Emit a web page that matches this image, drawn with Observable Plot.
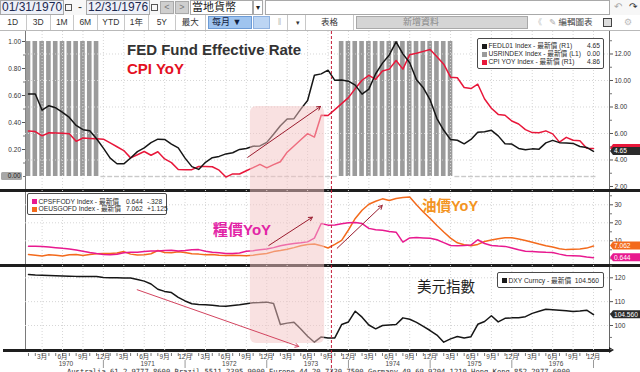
<!DOCTYPE html>
<html lang="zh-Hant">
<head>
<meta charset="utf-8">
<script src="https://cdn.jsdelivr.net/npm/d3@7"></script>
<script src="https://cdn.jsdelivr.net/npm/@observablehq/plot@0.6"></script>
<style>
html,body{margin:0;padding:0;background:#fff;}
#root{position:relative;width:640px;height:372px;overflow:hidden;background:#fff;font-family:"Liberation Sans","Noto Sans CJK TC",sans-serif;color:#222;}
.panel{position:absolute;left:0;}
.sep{position:absolute;background:#1e1e1e;}
.vax{position:absolute;width:1px;background:#7a7a7a;}
.box{position:absolute;box-sizing:border-box;border:1px solid #a9a9a9;background:#fff;white-space:nowrap;overflow:hidden;}
.btn{position:absolute;top:15px;height:15px;font-size:8.5px;line-height:15px;text-align:center;color:#333;border-right:1px solid #c8c8c8;box-sizing:border-box;white-space:nowrap;}
.legend{position:absolute;box-sizing:border-box;border:1px solid #4a4a4a;border-radius:2px;background:#fff;font-size:6.7px;color:#2a2a2a;}
.lrow{position:absolute;left:0;right:0;height:8px;line-height:8px;white-space:nowrap;}
.sw{position:absolute;width:5px;height:5px;top:1.5px;}
.note{position:absolute;white-space:nowrap;line-height:1;}
</style>
</head>
<body>
<div id="root"></div>
<script>
// ---------------- data (monthly, Jan 1970 .. Dec 1976) ----------------
const monthNames = ["1月","2月","3月","4月","5月","6月","7月","8月","9月","10月","11月","12月"];
const yearLabels = ["1970","1971","1972","1973","1974","1975","1976"];

const fedFunds = [8.98,8.98,7.76,8.10,7.94,7.60,7.21,6.61,6.29,6.20,5.60,4.90,
 4.14,3.72,3.71,4.15,4.63,4.91,5.31,5.57,5.55,5.20,4.91,4.14,
 3.50,3.29,3.83,4.17,4.27,4.46,4.55,4.80,4.87,5.04,5.06,5.33,
 5.94,6.58,7.09,7.12,7.84,8.49,10.40,10.50,10.78,10.01,10.03,9.95,
 9.65,8.97,9.35,10.51,11.31,11.93,12.92,12.01,11.34,10.06,9.45,8.53,
 7.13,6.24,5.54,5.49,5.22,5.55,6.10,6.14,6.24,5.82,5.22,5.20,
 4.87,4.77,4.84,4.82,5.29,5.48,5.31,5.29,5.25,5.02,4.95,4.65];

const cpiYoY = [6.18,6.15,5.82,6.06,6.04,6.01,5.98,5.41,5.66,5.63,5.60,5.57,
 5.29,5.00,4.71,4.16,4.40,4.64,4.36,4.62,4.08,3.80,3.28,3.27,
 3.27,3.51,3.50,3.49,3.23,2.71,2.95,2.94,3.19,3.42,3.67,3.41,
 3.65,3.87,4.59,5.06,5.53,5.99,5.73,7.38,7.36,7.80,8.25,8.71,
 9.39,10.02,10.39,10.09,10.71,10.86,11.51,10.86,11.95,12.06,12.20,12.34,
 11.80,11.23,10.25,10.21,9.47,9.39,9.72,8.60,7.91,7.44,7.38,6.94,
 6.72,6.29,6.07,6.05,6.20,5.97,5.35,5.71,5.49,5.46,4.88,4.86];

const usRecession = [1,1,1,1,1,1,1,1,1,1,1,0,
 0,0,0,0,0,0,0,0,0,0,0,0,
 0,0,0,0,0,0,0,0,0,0,0,0,
 0,0,0,0,0,0,0,0,0,0,1,1,
 1,1,1,1,1,1,1,1,1,1,1,1,
 1,1,1,0,0,0,0,0,0,0,0,0,
 0,0,0,0,0,0,0,0,0,0,0,0];

const foodYoY = [7.0,7.0,6.9,6.6,6.2,5.8,5.5,4.9,4.2,3.5,2.9,2.4,
 2.2,2.5,3.4,3.6,3.7,4.0,4.3,4.3,4.6,4.8,4.4,4.6,
 5.0,5.1,4.2,3.6,3.4,3.0,2.9,3.2,4.2,4.5,5.0,5.4,
 6.2,7.2,8.0,8.5,8.9,9.4,11.5,19.6,18.7,18.8,19.5,20.0,
 20.1,19.6,16.9,16.2,15.8,15.2,14.8,9.3,11.6,11.8,11.6,11.4,
 10.6,9.0,7.4,7.3,7.4,7.6,10.6,8.5,7.4,7.1,6.9,6.0,
 5.0,4.2,4.0,3.8,3.6,3.5,2.6,1.8,1.7,1.5,0.97,0.644];

const oilYoY = [2.4,2.0,1.6,2.2,2.0,1.5,2.2,2.4,1.8,2.4,2.8,3.0,
 2.9,3.2,4.0,2.6,2.1,2.3,2.8,4.6,3.5,3.3,3.9,3.5,
 2.8,2.6,2.2,2.4,2.0,1.8,2.0,1.9,1.7,2.0,2.5,3.0,
 4.0,4.6,5.3,6.2,7.2,8.0,8.2,7.3,6.0,8.0,10.2,16.0,
 22.4,27.0,30.3,32.0,33.3,32.4,33.5,34.0,34.3,30.0,26.0,22.4,
 18.5,14.9,11.5,8.9,7.8,7.3,8.0,9.6,10.5,11.2,11.7,11.7,
 11.0,10.2,9.2,8.2,7.3,6.5,5.6,5.1,5.3,5.5,5.94,7.062];

const dxy = [121.4,121.2,121.1,121.0,120.9,120.8,120.7,120.6,120.6,120.5,120.5,120.1,
 120.0,120.0,119.9,119.9,119.3,118.6,117.4,115.2,114.3,113.8,111.8,110.3,
 109.1,108.8,108.7,108.5,108.2,108.1,108.4,108.7,109.1,109.5,109.6,109.8,
 109.2,100.4,101.0,101.4,98.5,95.5,93.0,95.2,94.8,94.8,100.4,101.5,
 106.0,103.5,100.2,98.6,100.0,100.2,100.4,103.2,102.6,101.3,99.6,97.9,
 96.0,93.0,94.4,95.4,94.8,95.3,100.5,101.7,104.1,101.5,103.0,103.2,
 103.3,103.7,105.1,106.0,106.8,106.6,106.4,106.2,105.9,106.1,106.4,104.56];

const leftTicks = [0.2,0.4,0.6,0.8,1.0];
const leftMinor = [0,0.1,0.3,0.5,0.7,0.9];
const rateTicks = [2,4,6,8,10,12];
const rateMinor = [3,5,7,9,11,13];
const pctTicks = [10,20,30];
const pctMinor = [0,5,15,25,35];
const dxyTicks = [100,110,120];
const dxyMinor = [90,95,105,115,125];

const legendTop = [
  {name:"FEDL01 Index - 最新價 (R1)", color:"#1a1a1a", value:"4.65"},
  {name:"USRINDEX Index - 最新價 (L1)", color:"#9b9b9b", value:"0.00"},
  {name:"CPI YOY Index - 最新價 (R1)", color:"#e8173a", value:"4.86"}
];
const legendMid = [
  {name:"CPSFFODY Index - 最新價", color:"#e8198f", value:"0.644", chg:"-.328"},
  {name:"OEUSGOFD Index - 最新價", color:"#f36a1c", value:"7.062", chg:"+1.125"}
];
const legendBot = [{name:"DXY Curncy - 最新價", color:"#1a1a1a", value:"104.560"}];

// annotations, in month index (0 = Jan 1970) and series units
const highlight = [{from:32.6, to:43.5, topRate:8.04, bottomDxy:92.5}];
const eventMonth = [44.5];
const arrowsTop = [{x1:32.2, y1:4.2, x2:42.9, y2:8.04}];
const arrowsMid = [{x1:35.3, y1:7.4, x2:41.7, y2:23.1}, {x1:45.35, y1:5.9, x2:51.96, y2:29.6}];
const arrowsBot = [{x1:15.97, y1:115.0, x2:39.7, y2:91.2}];

// ---------------- build ----------------
const rows = fedFunds.map((_, i) => ({i, fed:fedFunds[i], cpi:cpiYoY[i], usr:usRecession[i],
  food:foodYoY[i], oil:oilYoY[i], dxy:dxy[i]}));
const allMonths = d3.range(rows.length);
const quarterTicks = d3.range(2, rows.length, 3);
const yearMid = yearLabels.map((_, k) => 12*k + 5.5);
const yearEnd = yearLabels.map((_, k) => 12*k + 11);

const W = 640, ML = 25, MR = 31;
const xDomain = [-0.44, 85.35];
const FONT = "Liberation Sans, Noto Sans CJK TC, sans-serif";
const C = {fed:"#161616", cpi:"#e8173a", bar:"#9b9b9b", food:"#e8198f", oil:"#f36a1c", dxy:"#161616",
  pink:"#f3c3c3", ev:"#c41e3a", arrow:"#9a1c2e", arrowB:"#d2445f", grid:"#d6d6d6"};

function panel(height, yDomain, marks, marginBottom = 0, xAxis = false) {
  return Plot.plot({
    width: W, height, marginLeft: ML, marginRight: MR, marginTop: 0, marginBottom,
    x: xAxis ? {domain: xDomain, label: null} : {domain: xDomain, axis: null, label: null},
    y: {domain: yDomain, label: null},
    style: {background: "transparent", fontFamily: FONT, fontSize: "6.5px", color: "#333", overflow: "visible"},
    marks
  });
}
const gridX = () => Plot.gridX({ticks: quarterTicks, stroke: C.grid, strokeOpacity: 1, strokeDasharray: "1,2"});
const hiFill = {fill: C.pink, fillOpacity: 0.5, clip: true};

const topBars = panel(159, [-0.1037, 1.0741], [
  Plot.rect(rows.filter(d => d.usr === 1), {x1: d => d.i - 0.5, x2: d => d.i + 0.5, y1: 0, y2: "usr",
    insetLeft: 1.1, insetRight: 1.1, fill: C.bar}),
  Plot.ruleY(rows.filter(d => d.usr === 0), {x1: d => d.i - 0.36, x2: d => d.i + 0.36, y: "usr", stroke: "#c9c9c9", strokeWidth: 1.4}),
  Plot.axisY({anchor: "left", ticks: leftTicks, tickFormat: d3.format(".2f"), tickSize: 3, tickPadding: 1.5, stroke: "#555", fill: "#333", label: null}),
  Plot.axisY({anchor: "left", ticks: leftMinor, tickFormat: () => "", tickSize: 2, stroke: "#777", label: null})
]);

const topLines = panel(159, [1.698, 13.698], [
  Plot.gridY({ticks: rateTicks.slice(1), stroke: C.grid, strokeOpacity: 1, strokeDasharray: "1,2"}),
  gridX(),
  Plot.line(rows, {x: "i", y: "cpi", stroke: C.cpi, strokeWidth: 1.5}),
  Plot.line(rows, {x: "i", y: "fed", stroke: C.fed, strokeWidth: 1.5}),
  Plot.rect(highlight, {x1: "from", x2: "to", y1: "topRate", y2: () => 0, rx: 6, ...hiFill}),
  Plot.ruleX(eventMonth, {stroke: C.ev, strokeDasharray: "3,2", strokeWidth: 1}),
  Plot.arrow(arrowsTop, {x1: "x1", y1: "y1", x2: "x2", y2: "y2", stroke: C.arrow, strokeWidth: 1, headLength: 6}),
  Plot.axisY({anchor: "right", ticks: rateTicks, tickFormat: d3.format(".2f"), tickSize: 3, tickPadding: 2, stroke: "#555", fill: "#333", label: null}),
  Plot.axisY({anchor: "right", ticks: rateMinor, tickFormat: () => "", tickSize: 2, stroke: "#777", label: null})
]);

const mid = panel(75, [-3.72, 37.94], [
  Plot.gridY({ticks: pctTicks, stroke: C.grid, strokeOpacity: 1, strokeDasharray: "1,2"}),
  gridX(),
  Plot.line(rows, {x: "i", y: "oil", stroke: C.oil, strokeWidth: 1.5}),
  Plot.line(rows, {x: "i", y: "food", stroke: C.food, strokeWidth: 1.5}),
  Plot.rect(highlight, {x1: "from", x2: "to", ...hiFill}),
  Plot.ruleX(eventMonth, {stroke: C.ev, strokeDasharray: "3,2", strokeWidth: 1}),
  Plot.arrow(arrowsMid, {x1: "x1", y1: "y1", x2: "x2", y2: "y2", stroke: C.arrow, strokeWidth: 1, headLength: 6}),
  Plot.axisY({anchor: "right", ticks: pctTicks, tickFormat: d3.format("d"), tickSize: 3, tickPadding: 2, stroke: "#555", fill: "#333", label: null}),
  Plot.axisY({anchor: "right", ticks: pctMinor, tickFormat: () => "", tickSize: 2, stroke: "#777", label: null})
]);

const bot = panel(107, [89.52, 125.16], [
  Plot.gridY({ticks: dxyTicks, stroke: C.grid, strokeOpacity: 1, strokeDasharray: "1,2"}),
  gridX(),
  Plot.line(rows, {x: "i", y: "dxy", stroke: C.dxy, strokeWidth: 1.5}),
  Plot.rect(highlight, {x1: "from", x2: "to", y1: "bottomDxy", y2: () => 140, rx: 6, ...hiFill}),
  Plot.ruleX(eventMonth, {stroke: C.ev, strokeDasharray: "3,2", strokeWidth: 1}),
  Plot.arrow(arrowsBot, {x1: "x1", y1: "y1", x2: "x2", y2: "y2", stroke: C.arrowB, strokeWidth: 1, headLength: 6}),
  Plot.axisY({anchor: "right", ticks: dxyTicks, tickFormat: d3.format("d"), tickSize: 3, tickPadding: 2, stroke: "#555", fill: "#333", label: null}),
  Plot.axisY({anchor: "right", ticks: dxyMinor, tickFormat: () => "", tickSize: 2, stroke: "#777", label: null}),
  Plot.axisX({ticks: allMonths, tickSize: 3, dy: 3, tickFormat: () => "", stroke: "#777", label: null}),
  Plot.axisX({ticks: quarterTicks, tickSize: 0, tickPadding: 4, tickFormat: i => monthNames[i % 12], fill: "#444", label: null}),
  Plot.axisX({ticks: yearMid, tickSize: 0, tickPadding: 11, tickFormat: d => yearLabels[Math.floor(d / 12)], fill: "#444", label: null}),
  Plot.axisX({ticks: yearEnd, tickSize: 8, dy: 10, tickFormat: () => "", stroke: "#9a9a9a", label: null}),
  Plot.axisX({ticks: eventMonth, tickSize: 22, tickFormat: () => "", stroke: C.ev, strokeDasharray: "3,2", label: null})
], 22, true);

// ---------------- page ----------------
const root = document.getElementById("root");
function add(html) { root.insertAdjacentHTML("beforeend", html); }

// toolbar row 1
add(`<div style="position:absolute;left:0;top:0;width:640px;height:15px;background:#f7f7f7;border-bottom:1px solid #c9c9c9"></div>`);
add(`<div class="box" style="left:0;top:0;width:64px;height:15px;background:#eef1f8;font-size:12px;line-height:13px;color:#1d2a52;padding-left:1px">01/31/1970</div>`);
add(`<div style="position:absolute;left:65px;top:4px;width:5px;height:5px;border:1px solid #555"></div>`);
add(`<div style="position:absolute;left:78px;top:0;font-size:12px;line-height:14px;color:#333">-</div>`);
add(`<div class="box" style="left:86px;top:0;width:64px;height:15px;background:#eef1f8;font-size:12px;line-height:13px;color:#1d2a52;padding-left:1px">12/31/1976</div>`);
add(`<div style="position:absolute;left:151px;top:4px;width:5px;height:5px;border:1px solid #555"></div>`);
add(`<div class="box" style="left:160px;top:1px;width:14px;height:13px;background:#cfcfcf;font-size:9px;line-height:11px;text-align:center;color:#777">&lt;</div>`);
add(`<div class="box" style="left:175px;top:1px;width:14px;height:13px;background:#cfcfcf;font-size:9px;line-height:11px;text-align:center;color:#777">&gt;</div>`);
add(`<div class="box" style="left:190px;top:0;width:63px;height:15px;font-size:11px;line-height:13px;color:#222;padding-left:1px">當地貨幣</div>`);
add(`<div class="box" style="left:253px;top:0;width:10px;height:15px;font-size:8px;line-height:13px;text-align:center">▾</div>`);
add(`<div class="box" style="left:265px;top:0;width:345px;height:15px"></div>`);
add(`<div style="position:absolute;left:614px;top:0;font-size:10px;line-height:14px;color:#aaa;font-family:'DejaVu Sans'">↶</div>`);
add(`<div style="position:absolute;left:629px;top:0;font-size:10px;line-height:14px;color:#333;font-family:'DejaVu Sans'">↷</div>`);
// toolbar row 2
add(`<div style="position:absolute;left:0;top:15px;width:640px;height:15px;background:#fff;border-bottom:1px solid #b9b9b9"></div>`);
const btns = [["1D",0,26.6],["3D",26.6,51],["1M",51,73.6],["6M",73.6,98],["YTD",98,124.6],["1年",124.6,149],["5Y",149,175.7],["最大",175.7,206]];
btns.forEach(([t,a,b]) => add(`<div class="btn" style="left:${a}px;width:${b-a}px">${t}</div>`));
add(`<div class="box" style="left:208px;top:16px;width:44px;height:13px;background:#9fc4ef;border-color:#6c9bd6;font-size:9px;line-height:11px;color:#102040;padding-left:3px">每月 ▼</div>`);
add(`<div class="box" style="left:253px;top:16px;width:17px;height:13px;background:#bcd5f3;border-color:#8fb2e0"></div>`);
add(`<div class="btn" style="left:272px;width:16px;color:#bbb">‖</div>`);
add(`<div class="btn" style="left:290px;width:16px;font-size:7px">▾</div>`);
add(`<div class="btn" style="left:306px;width:48px;font-size:8.5px">表格</div>`);
add(`<div class="box" style="left:356px;top:16px;width:172px;height:13px;background:#d5d5d5;font-size:9px;line-height:11px;color:#8a8a8a;padding-left:46px">新增資料</div>`);
add(`<div style="position:absolute;left:534px;top:15px;font-size:8px;line-height:15px;color:#bbb">《</div>`);
add(`<div style="position:absolute;left:549px;top:15px;font-size:8.5px;line-height:15px;color:#444;white-space:nowrap"><span style="color:#aaa;font-family:'DejaVu Sans'">✎</span> 編輯圖表</div>`);
add(`<div style="position:absolute;left:603px;top:18px;width:7px;height:7px;border:1px solid #444;background:#ddd"></div>`);
add(`<div style="position:absolute;left:624px;top:15px;font-size:9px;line-height:15px;color:#bbb;font-family:'DejaVu Sans'">⚙</div>`);

// separators & axis lines (under the plots)
add(`<div class="vax" style="left:25px;top:31px;height:319px"></div>`);
add(`<div class="vax" style="left:609px;top:31px;height:319px;background:#666"></div>`);
add(`<div class="sep" style="left:0;top:189px;width:640px;height:3px"></div>`);
add(`<div class="sep" style="left:0;top:264px;width:640px;height:3px"></div>`);
add(`<div class="sep" style="left:3px;top:349px;width:607px;height:3px"></div>`);
add(`<div style="position:absolute;left:609px;top:347px;width:0;height:0;border-top:3.5px solid transparent;border-bottom:3.5px solid transparent;border-left:5px solid #1e1e1e"></div>`);

// plots
function place(svg, top, z) {
  svg.style.position = "absolute"; svg.style.left = "0px"; svg.style.top = top + "px"; svg.style.zIndex = z;
  root.appendChild(svg);
}
place(topBars, 31, 2); place(topLines, 31, 3); place(mid, 190, 3); place(bot, 265, 3);

function yPos(plot, v) {
  const s = plot.scale("y");
  return s.apply ? s.apply(v) : d3.scaleLinear(s.domain, s.range)(v);
}
function rightTag(plot, v, bg, label, fg = "#fff") {
  const x0 = plot.scale("x").range[1] + 1;
  const y = yPos(plot, v);
  const g = d3.select(plot).append("g");
  g.append("path").attr("d", `M${x0},${y}L${x0 + 3},${y - 4}H${W}V${y + 4}H${x0 + 3}Z`).attr("fill", bg);
  if (label) g.append("text").attr("x", x0 + 4).attr("y", y).attr("dy", "0.36em").attr("fill", fg)
    .attr("text-anchor", "start").attr("font-size", 6.6).attr("font-family", FONT).text(label);
}
function leftTag(plot, v, bg, label) {
  const x1 = plot.scale("x").range[0] - 3;
  const y = yPos(plot, v);
  const g = d3.select(plot).append("g");
  g.append("rect").attr("x", 1).attr("y", y - 4).attr("width", x1 - 1).attr("height", 8).attr("rx", 1.5).attr("fill", bg);
  g.append("text").attr("x", x1 - 1.5).attr("y", y).attr("dy", "0.36em").attr("text-anchor", "end")
    .attr("fill", "#222").attr("font-size", 6.5).attr("font-family", FONT).text(label);
}
const last = rows[rows.length - 1];
leftTag(topBars, last.usr, "#a7a7a7", d3.format(".2f")(last.usr));
rightTag(topLines, last.cpi, C.cpi, null);   // hidden behind the FEDL01 tag, as in the reference
rightTag(topLines, last.fed, "#2b2b2b", d3.format(".2f")(last.fed));
rightTag(mid, last.oil, C.oil, d3.format(".3f")(last.oil));
rightTag(mid, last.food, C.food, d3.format(".3f")(last.food));
rightTag(bot, last.dxy, "#2b2b2b", d3.format(".3f")(last.dxy));

// legends
function legend(items, left, top, width, height, rowTops, valueRight) {
  let h = `<div class="legend" style="left:${left}px;top:${top}px;width:${width}px;height:${height}px;z-index:5">`;
  items.forEach((it, k) => {
    h += `<div class="lrow" style="top:${rowTops[k]}px"><span class="sw" style="left:4px;background:${it.color}"></span>` +
      `<span style="position:absolute;left:10.5px">${it.name}</span>`;
    if (it.chg) h += `<span style="position:absolute;left:98px">${it.value}</span><span style="position:absolute;left:119px">${it.chg}</span>`;
    else h += `<span style="position:absolute;right:${valueRight}px">${it.value}</span>`;
    h += `</div>`;
  });
  root.insertAdjacentHTML("beforeend", h + `</div>`);
}
legend(legendTop, 477, 38, 127, 31, [3, 11, 19], 3);
legend(legendMid, 27, 193, 140, 22, [3.5, 11], 3);
legend(legendBot, 497, 272, 107, 16, [3.5], 4);

// annotation texts
add(`<div class="note" style="left:127px;top:42px;font-size:15px;font-weight:bold;color:#333;z-index:6">FED Fund Effective Rate</div>`);
add(`<div class="note" style="left:127px;top:60.5px;font-size:15px;font-weight:bold;color:#e3101f;z-index:6">CPI YoY</div>`);
add(`<div class="note" style="left:213px;top:221.5px;font-size:15px;font-weight:bold;color:#e224a6;z-index:6">糧價YoY</div>`);
add(`<div class="note" style="left:422px;top:198.5px;font-size:14.5px;font-weight:bold;color:#f39422;z-index:6">油價YoY</div>`);
add(`<div class="note" style="left:417px;top:279.5px;font-size:14.5px;color:#1e1e1e;z-index:6">美元指數</div>`);

// footer (cut off by the window bottom, as in the reference)
add(`<div style="position:absolute;left:67px;top:368px;font-family:'DejaVu Sans Mono',monospace;font-size:7.15px;line-height:8px;color:#333;white-space:pre;z-index:6">Australia 61 2 9777 8600 Brazil 5511 2395 9000 Europe 44 20 7330 7500 Germany 49 69 9204 1210 Hong Kong 852 2977 6000</div>`);
</script>
</body>
</html>
